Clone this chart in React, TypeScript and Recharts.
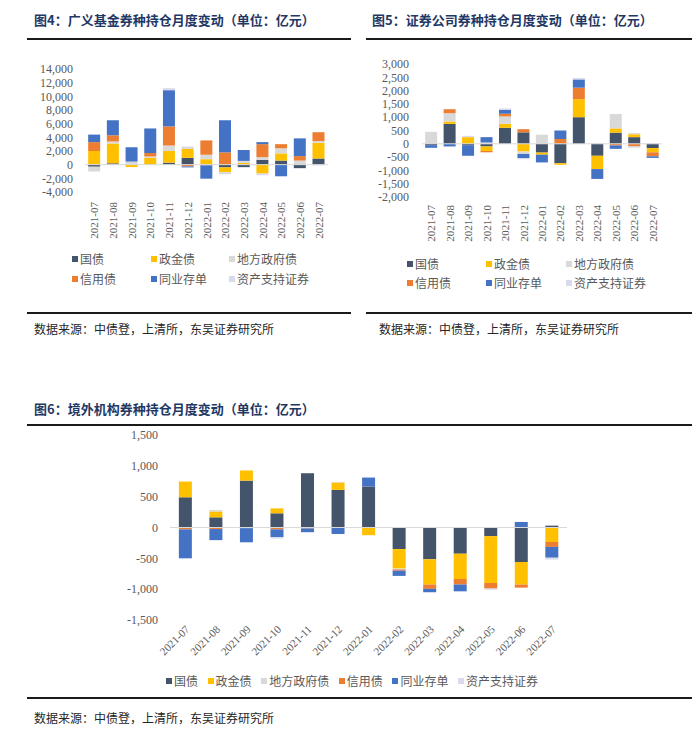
import React from 'react';
import { BarChart, Bar, XAxis, YAxis, ReferenceLine } from 'recharts';

const months = [
  '2021-07', '2021-08', '2021-09', '2021-10', '2021-11', '2021-12',
  '2022-01', '2022-02', '2022-03', '2022-04', '2022-05', '2022-06', '2022-07'
];

const seriesNames = ['国债', '政金债', '地方政府债', '信用债', '同业存单', '资产支持证券'];
const seriesColors = ['#44546A', '#FFC000', '#D9D9D9', '#ED7D31', '#4472C4', '#DADAEE'];

// 图4 广义基金
const fundGov = [-300, 200, 0, 0, 300, 1000, -100, -400, -350, 700, 600, -500, 900];
const fundPolicy = [2000, 2900, -350, 1000, 1700, 1300, 800, -700, 250, -1300, 1050, 0, 2300];
const fundLocal = [-700, 300, 450, 200, 800, 350, 650, -300, 300, 400, 750, 600, 250];
const fundCredit = [1300, 900, 0, 500, 2800, -250, 2100, 1800, 0, 1900, 600, 650, 1300];
const fundNcd = [1100, 2200, 2100, 3600, 5300, -150, -1950, 4700, 1600, 300, -1700, 2600, 0];
const fundAbs = [0, 0, 0, 0, 300, 0, 0, 0, -100, -250, 0, -100, -100];
const fundTicks = [-4000, -2000, 0, 2000, 4000, 6000, 8000, 10000, 12000, 14000];

// 图5 证券公司
const secGov = [-50, 750, -50, -100, 600, 430, -330, -730, 1000, -450, 420, 250, -160];
const secPolicy = [0, 90, 250, -170, 150, -290, -80, -60, 680, -500, 160, 110, -160];
const secLocal = [450, 310, 0, 50, 280, -90, 340, 0, 0, 0, 540, 40, 0];
const secCredit = [0, 150, 0, -50, 100, 120, 0, 180, 430, 0, -60, -100, -150];
const secNcd = [-100, -100, -400, 200, 150, -160, -290, 320, 310, -370, -130, 0, -60];
const secAbs = [0, 0, 50, 0, 50, -40, 0, 0, 50, 0, 0, -50, 0];
const secTicks = [-2000, -1500, -1000, -500, 0, 500, 1000, 1500, 2000, 2500, 3000];

// 图6 境外机构
const forGov = [490, 165, 760, 230, 880, 610, 665, -350, -515, -425, -140, -560, 30];
const forPolicy = [255, 95, 165, 80, 0, 120, -125, -315, -410, -410, -760, -365, -235];
const forLocal = [0, 25, -10, 0, 0, 10, 0, -15, 0, 0, 0, 0, 0];
const forCredit = [-30, -25, 0, -30, -15, 0, 0, -20, -70, -90, -90, -50, -80];
const forNcd = [-470, -180, -230, -125, -60, -105, 145, -85, -55, -110, 0, 90, -175];
const forAbs = [0, 0, 0, -25, -10, 0, 0, 0, 0, 0, -20, 0, -30];
const forTicks = [-1500, -1000, -500, 0, 500, 1000, 1500];

const keys = ['s0', 's1', 's2', 's3', 's4', 's5'];

function buildRows(cols: number[][]) {
  return months.map((m, i) => {
    const row: any = { month: m };
    cols.forEach((c, j) => { row[keys[j]] = c[i]; });
    return row;
  });
}

const fundData = buildRows([fundGov, fundPolicy, fundLocal, fundCredit, fundNcd, fundAbs]);
const secData = buildRows([secGov, secPolicy, secLocal, secCredit, secNcd, secAbs]);
const forData = buildRows([forGov, forPolicy, forLocal, forCredit, forNcd, forAbs]);

const serif = '"Liberation Serif", "Times New Roman", serif';
const cjk = '"Noto Sans CJK SC", sans-serif';
const axisGray = '#595959';

const fmt = (v: number) => v.toLocaleString('en-US');

const VerticalTick = (props: any) => {
  const { x, y, payload, offset } = props;
  const ty = y + offset;
  return (
    <text x={x} y={ty} transform={`rotate(-90 ${x} ${ty})`} textAnchor="end"
      dominantBaseline="central" fill={axisGray} fontSize={11} fontFamily={serif}>
      {payload.value}
    </text>
  );
};

const SlantTick = (props: any) => {
  const { x, y, payload } = props;
  const tx = x + 5;
  const ty = y + 10;
  return (
    <text x={tx} y={ty} transform={`rotate(-45 ${tx} ${ty})`} textAnchor="end"
      fill={axisGray} fontSize={11} fontFamily={serif}>
      {payload.value}
    </text>
  );
};

function StackedChart(props: {
  data: any[]; width: number; height: number; margin: any; yWidth: number;
  xHeight: number; domain: [number, number]; ticks: number[]; tickMargin: number;
  gap: string; tick: any;
}) {
  const { data, width, height, margin, yWidth, xHeight, domain, ticks, tickMargin, gap, tick } = props;
  return (
    <BarChart width={width} height={height} data={data} margin={margin}
      stackOffset="sign" barCategoryGap={gap}>
      <XAxis dataKey="month" axisLine={false} tickLine={false} tickSize={0} tickMargin={0}
        height={xHeight} interval={0} tick={tick} />
      <YAxis domain={domain} ticks={ticks} width={yWidth} axisLine={false} tickLine={false}
        tickSize={0} tickMargin={tickMargin} tickFormatter={fmt} interval={0}
        tick={{ fill: axisGray, fontSize: 12, fontFamily: serif }} />
      <ReferenceLine y={0} stroke="#D9D9D9" strokeWidth={1} />
      {keys.map((k, i) => (
        <Bar key={k} dataKey={k} stackId="a" fill={seriesColors[i]} isAnimationActive={false} />
      ))}
    </BarChart>
  );
}

const Title = ({ x, y, text }: { x: number; y: number; text: string }) => (
  <div style={{
    position: 'absolute', left: x, top: y, fontFamily: cjk, fontWeight: 700,
    fontSize: 13, color: '#1F3864', whiteSpace: 'nowrap', lineHeight: '16px'
  }}>{text}</div>
);

const Rule = ({ x, y, w }: { x: number; y: number; w: number }) => (
  <div style={{ position: 'absolute', left: x, top: y, width: w, height: 2, background: '#1a1a1a' }} />
);

const Source = ({ x, y }: { x: number; y: number }) => (
  <div style={{
    position: 'absolute', left: x, top: y, fontFamily: cjk, fontSize: 12,
    color: '#262626', whiteSpace: 'nowrap', lineHeight: '14px'
  }}>数据来源：中债登，上清所，东吴证券研究所</div>
);

const LegendEntry = ({ i, size }: { i: number; size: number }) => (
  <span style={{
    display: 'inline-flex', alignItems: 'center', fontFamily: cjk, fontSize: size,
    color: axisGray, whiteSpace: 'nowrap', lineHeight: '14px'
  }}>
    <span style={{ width: 6, height: 6, background: seriesColors[i], marginRight: 2, display: 'inline-block' }} />
    {seriesNames[i]}
  </span>
);

const LegendItem = ({ x, y, i }: { x: number; y: number; i: number }) => (
  <div style={{ position: 'absolute', left: x, top: y }}>
    <LegendEntry i={i} size={12} />
  </div>
);

export default function App() {
  return (
    <div style={{ position: 'relative', width: 700, height: 734, background: '#fff', overflow: 'hidden' }}>
      <style>{'body{margin:0}'}</style>

      <Title x={34} y={12} text="图4：广义基金券种持仓月度变动（单位：亿元）" />
      <Rule x={27} y={38} w={324} />
      <Title x={372} y={12} text="图5：证券公司券种持仓月度变动（单位：亿元）" />
      <Rule x={366} y={38} w={326} />

      <div style={{ position: 'absolute', left: 0, top: 0 }}>
        <StackedChart data={fundData} width={350} height={250}
          margin={{ top: 69, right: 22, bottom: 0, left: 0 }} yWidth={85} xHeight={58}
          domain={[-4000, 14000]} ticks={fundTicks} tickMargin={12} gap="17%"
          tick={<VerticalTick offset={10} />} />
      </div>
      <div style={{ position: 'absolute', left: 350, top: 0 }}>
        <StackedChart data={secData} width={350} height={250}
          margin={{ top: 64, right: 38, bottom: 0, left: 0 }} yWidth={72} xHeight={53}
          domain={[-2000, 3000]} ticks={secTicks} tickMargin={13} gap="17%"
          tick={<VerticalTick offset={8} />} />
      </div>

      {[0, 1, 2].map(c => [0, 1].map(r => (
        <LegendItem key={`a${c}${r}`} x={[72, 151, 229][c]} y={[248, 268][r]} i={r * 3 + c} />
      )))}
      {[0, 1, 2].map(c => [0, 1].map(r => (
        <LegendItem key={`b${c}${r}`} x={[407, 486, 566][c]} y={[253, 272][r]} i={r * 3 + c} />
      )))}

      <Rule x={27} y={312} w={324} />
      <Rule x={366} y={312} w={326} />
      <Source x={34} y={322} />
      <Source x={379} y={322} />

      <Title x={34} y={401} text="图6：境外机构券种持仓月度变动（单位：亿元）" />
      <Rule x={27} y={424} w={665} />

      <div style={{ position: 'absolute', left: 0, top: 400 }}>
        <StackedChart data={forData} width={700} height={265}
          margin={{ top: 35, right: 133, bottom: 0, left: 0 }} yWidth={170} xHeight={45}
          domain={[-1500, 1500]} ticks={forTicks} tickMargin={12} gap="29%"
          tick={<SlantTick />} />
      </div>

      <div style={{
        position: 'absolute', left: 166, top: 674, width: 372, display: 'flex',
        justifyContent: 'space-between'
      }}>
        {seriesNames.map((_, i) => <LegendEntry key={`c${i}`} i={i} size={12} />)}
      </div>

      <Rule x={27} y={697} w={665} />
      <Source x={34} y={711} />
    </div>
  );
}
